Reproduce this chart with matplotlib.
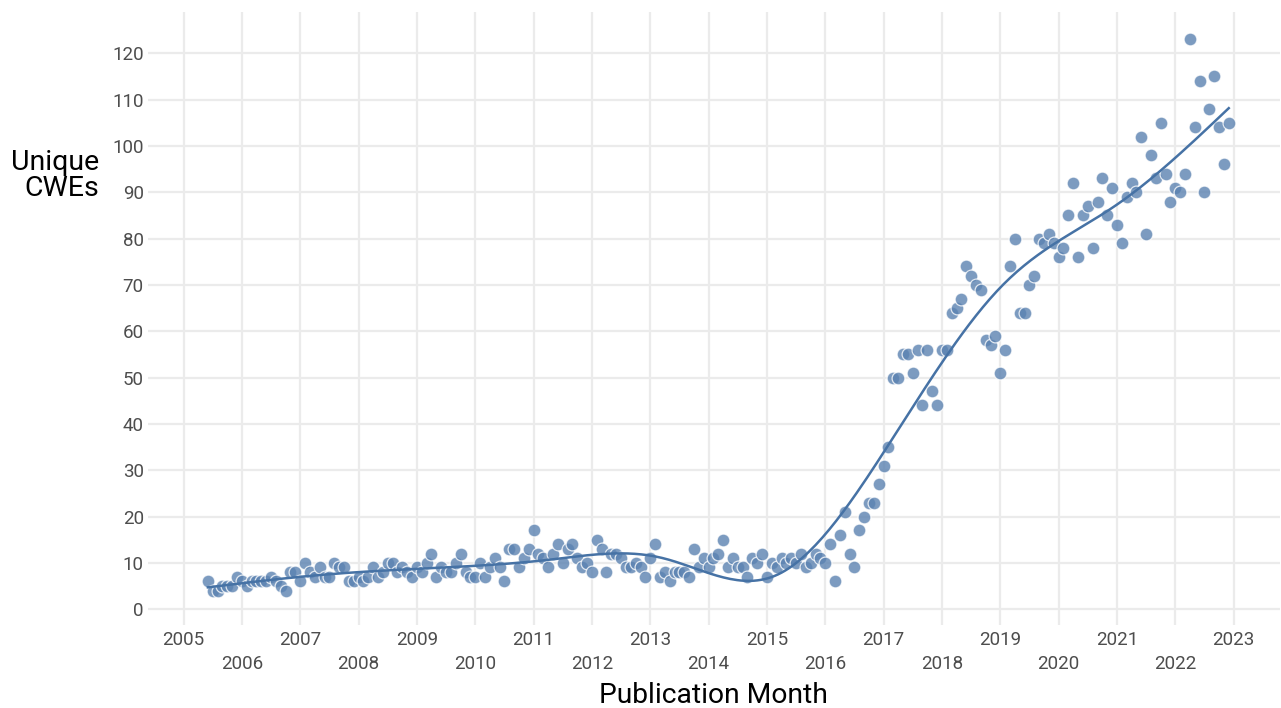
import numpy as np
import matplotlib
matplotlib.use("Agg")
import matplotlib.pyplot as plt

plt.rcParams['font.family'] = ['Roboto', 'DejaVu Sans']

# months since Jan 2005 (first point June 2005, last Dec 2022)
start_month = 5
unique_cwes = [
    6, 4, 4, 5, 5, 5, 7,                                  # 2005 Jun-Dec
    6, 5, 6, 6, 6, 6, 7, 6, 5, 4, 8, 8,                   # 2006
    6, 10, 8, 7, 9, 7, 7, 10, 9, 9, 6, 6,                 # 2007
    7, 6, 7, 9, 7, 8, 10, 10, 8, 9, 8, 7,                 # 2008
    9, 8, 10, 12, 7, 9, 8, 8, 10, 12, 8, 7,               # 2009
    7, 10, 7, 9, 11, 9, 6, 13, 13, 9, 11, 13,             # 2010
    17, 12, 11, 9, 12, 14, 10, 13, 14, 11, 9, 10,         # 2011
    8, 15, 13, 8, 12, 12, 11, 9, 9, 10, 9, 7,             # 2012
    11, 14, 7, 8, 6, 8, 8, 8, 7, 13, 9, 11,               # 2013
    9, 11, 12, 15, 9, 11, 9, 9, 7, 11, 10, 12,            # 2014
    7, 10, 9, 11, 10, 11, 10, 12, 9, 10, 12, 11,          # 2015
    10, 14, 6, 16, 21, 12, 9, 17, 20, 23, 23, 27,         # 2016
    31, 35, 50, 50, 55, 55, 51, 56, 44, 56, 47, 44,       # 2017
    56, 56, 64, 65, 67, 74, 72, 70, 69, 58, 57, 59,       # 2018
    51, 56, 74, 80, 64, 64, 70, 72, 80, 79, 81, 79,       # 2019
    76, 78, 85, 92, 76, 85, 87, 78, 88, 93, 85, 91,       # 2020
    83, 79, 89, 92, 90, 102, 81, 98, 93, 105, 94, 88,     # 2021
    91, 90, 94, 123, 104, 114, 90, 108, 115, 104, 96, 105 # 2022
]

year_ticks = list(range(2005, 2024))
y_ticks = list(range(0, 121, 10))

y = np.array(unique_cwes, dtype=float)
x = 2005 + (start_month + np.arange(len(y))) / 12.0


# natural cubic regression spline, like a gam smooth
def ns_basis(v, knots):
    K = len(knots)

    def d(k):
        a = np.clip(v - knots[k], 0, None) ** 3
        b = np.clip(v - knots[-1], 0, None) ** 3
        return (a - b) / (knots[-1] - knots[k])

    cols = [np.ones_like(v), v - knots[0]]
    for k in range(K - 2):
        cols.append(d(k) - d(K - 2))
    return np.vstack(cols).T


knots = np.linspace(x.min(), x.max(), 10)
B = ns_basis(x, knots)
coef = np.linalg.lstsq(B, y, rcond=None)[0]
grid = np.linspace(x.min(), x.max(), 300)
smooth = ns_basis(grid, knots) @ coef

fig = plt.figure(figsize=(12.81, 7.08), dpi=100)
ax = fig.add_axes([0.1155, 0.117, 0.8835, 0.866])

ax.scatter(x, y, s=85, color='#5b82b1', alpha=0.8, edgecolor='white',
           linewidth=0.9, zorder=3)
ax.plot(grid, smooth, color='#4672a5', linewidth=1.8, zorder=4)

ax.set_xlim(2004.39, 2023.79)
ax.set_ylim(-3.45, 128.9)

ax.set_xticks(year_ticks)
ax.set_xticklabels([str(t) if t % 2 else "\n" + str(t) for t in year_ticks])
ax.set_yticks(y_ticks)
for lab in ax.get_xticklabels():
    lab.set_linespacing(1.45)

ax.grid(True, color='#ebebeb', linewidth=1.6)
ax.set_axisbelow(True)
for s in ax.spines.values():
    s.set_visible(False)
ax.tick_params(length=0, labelsize=13.5, labelcolor='#4d4d4d')
ax.tick_params(axis='y', pad=3)
ax.tick_params(axis='x', pad=4)

ax.set_xlabel("Publication Month", fontsize=20.3, labelpad=6.5)
ax.text(-0.043, 0.733, "Unique\nCWEs", transform=ax.transAxes, fontsize=20.5,
        ha='right', va='center', multialignment='right', linespacing=0.95)

fig.savefig("out.png", dpi=100)
